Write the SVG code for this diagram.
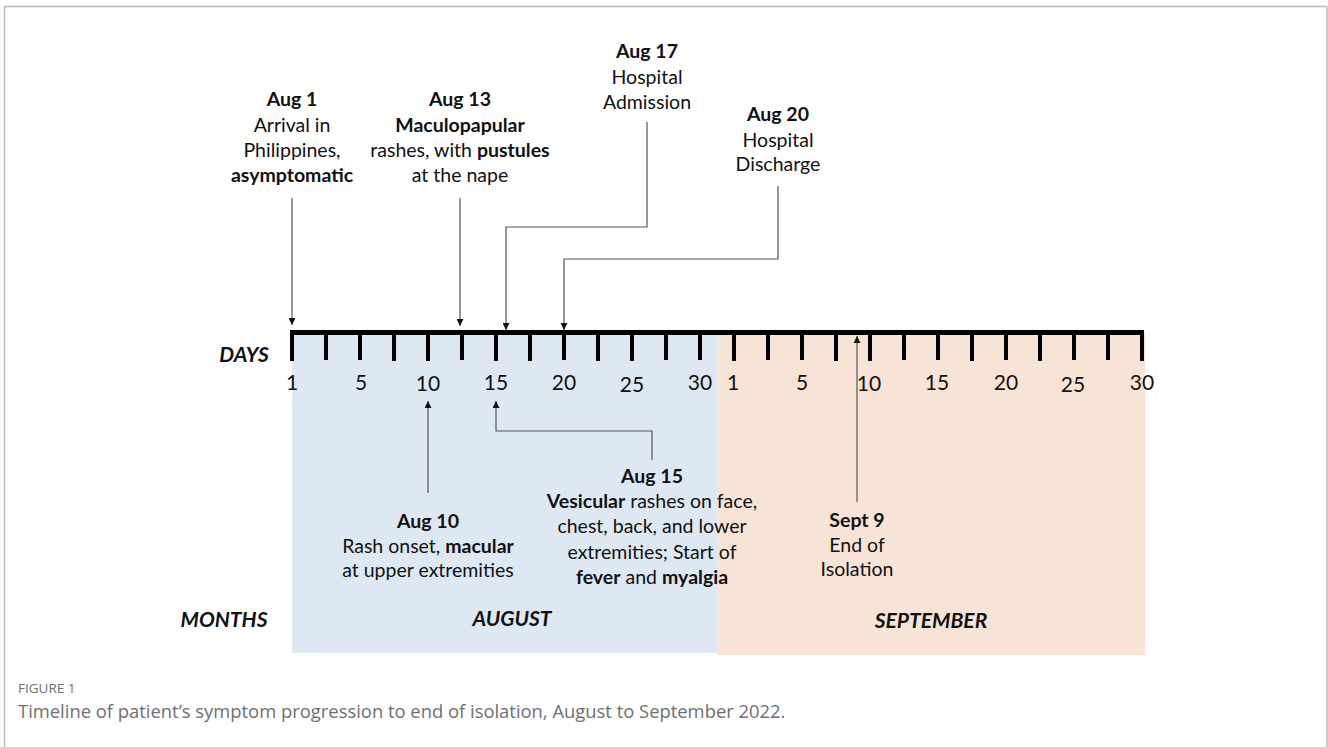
<svg xmlns="http://www.w3.org/2000/svg" width="1328" height="747" viewBox="0 0 1328 747">
<defs>
<style>
.t{font-family:Lato,"Open Sans","Liberation Sans",sans-serif;font-size:19.5px;fill:#111;text-anchor:middle}
.b{font-weight:bold}
.ax{font-family:Lato,"Open Sans","Liberation Sans",sans-serif;font-size:21px;fill:#111;text-anchor:middle}
.hd{font-family:Lato,"Open Sans","Liberation Sans",sans-serif;font-size:21px;font-weight:bold;font-style:italic;fill:#111;text-anchor:middle}
.con{fill:none;stroke:#555;stroke-width:1.2}
.tick{stroke:#000;stroke-width:4}
.cap{font-family:"Open Sans","Lato","Liberation Sans",sans-serif;fill:#6f6f6f}
</style>
<marker id="ah" viewBox="0 0 10 10" refX="10" refY="5" markerWidth="7" markerHeight="7" markerUnits="userSpaceOnUse" orient="auto">
<path d="M0,0 L10,5 L0,10 z" fill="#111"/>
</marker>
</defs>
<rect x="0" y="0" width="1328" height="747" fill="#fff"/>
<path d="M4.5,747 V6.5 H1327" fill="none" stroke="#b8b8b8" stroke-width="1.5"/>
<path d="M1327,6.5 V747" fill="none" stroke="#b8b8b8" stroke-width="1.5"/>

<g id="backgrounds">
<rect x="292" y="333" width="425" height="320" fill="#dee8f3"/>
<rect x="717" y="333" width="428" height="322" fill="#f7e4d6"/>
</g>

<g id="axis">
<line x1="290" y1="332.5" x2="1144" y2="332.5" stroke="#000" stroke-width="5"/>
<g class="tick">
<line x1="292" y1="332" x2="292" y2="361"/>
<line x1="326" y1="332" x2="326" y2="360"/>
<line x1="360" y1="332" x2="360" y2="360"/>
<line x1="394" y1="332" x2="394" y2="361"/>
<line x1="428" y1="332" x2="428" y2="361"/>
<line x1="462" y1="332" x2="462" y2="360"/>
<line x1="496" y1="332" x2="496" y2="361"/>
<line x1="530" y1="332" x2="530" y2="361"/>
<line x1="564" y1="332" x2="564" y2="360"/>
<line x1="598" y1="332" x2="598" y2="361"/>
<line x1="632" y1="332" x2="632" y2="361"/>
<line x1="666" y1="332" x2="666" y2="360"/>
<line x1="700" y1="332" x2="700" y2="360"/>
<line x1="734" y1="332" x2="734" y2="361"/>
<line x1="768" y1="332" x2="768" y2="360"/>
<line x1="802" y1="332" x2="802" y2="360"/>
<line x1="836" y1="332" x2="836" y2="361"/>
<line x1="870" y1="332" x2="870" y2="361"/>
<line x1="904" y1="332" x2="904" y2="360"/>
<line x1="938" y1="332" x2="938" y2="360"/>
<line x1="972" y1="332" x2="972" y2="361"/>
<line x1="1006" y1="332" x2="1006" y2="360"/>
<line x1="1040" y1="332" x2="1040" y2="361"/>
<line x1="1074" y1="332" x2="1074" y2="360"/>
<line x1="1108" y1="332" x2="1108" y2="360"/>
<line x1="1142" y1="332" x2="1142" y2="361"/>
</g>
<text class="ax" x="292" y="390">1</text>
<text class="ax" x="361" y="390">5</text>
<text class="ax" x="428" y="391">10</text>
<text class="ax" x="496" y="390">15</text>
<text class="ax" x="564" y="390">20</text>
<text class="ax" x="632" y="392">25</text>
<text class="ax" x="700" y="390">30</text>
<text class="ax" x="733" y="390">1</text>
<text class="ax" x="802" y="390">5</text>
<text class="ax" x="869" y="391">10</text>
<text class="ax" x="937" y="390">15</text>
<text class="ax" x="1006" y="390">20</text>
<text class="ax" x="1073" y="392">25</text>
<text class="ax" x="1142" y="390">30</text>
<text class="hd" x="244" y="362">DAYS</text>
<text class="hd" x="224" y="627">MONTHS</text>
<text class="hd" x="512" y="626">AUGUST</text>
<text class="hd" x="931" y="628">SEPTEMBER</text>
</g>

<g id="connectors">
<path class="con" d="M292,198 V325" marker-end="url(#ah)"/>
<path class="con" d="M460,198 V326" marker-end="url(#ah)"/>
<path class="con" d="M647,122 V227 H506 V330" marker-end="url(#ah)"/>
<path class="con" d="M778,186 V259 H564 V330" marker-end="url(#ah)"/>
<path class="con" d="M428,493 V401" marker-end="url(#ah)"/>
<path class="con" d="M652,460 V431 H496 V401" marker-end="url(#ah)"/>
<path class="con" d="M857,502 V336" marker-end="url(#ah)"/>
</g>

<g id="aug1">
<text class="t b" x="292" y="106">Aug 1</text>
<text class="t" x="292" y="132">Arrival in</text>
<text class="t" x="292" y="157">Philippines,</text>
<text class="t b" x="292" y="182">asymptomatic</text>
</g>
<g id="aug13">
<text class="t b" x="460" y="106">Aug 13</text>
<text class="t b" x="460" y="132">Maculopapular</text>
<text class="t" x="460" y="157">rashes, with <tspan class="b">pustules</tspan></text>
<text class="t" x="460" y="182">at the nape</text>
</g>
<g id="aug17">
<text class="t b" x="647" y="58">Aug 17</text>
<text class="t" x="647" y="84">Hospital</text>
<text class="t" x="647" y="109">Admission</text>
</g>
<g id="aug20">
<text class="t b" x="778" y="121">Aug 20</text>
<text class="t" x="778" y="147">Hospital</text>
<text class="t" x="778" y="171">Discharge</text>
</g>
<g id="aug10">
<text class="t b" x="428" y="528">Aug 10</text>
<text class="t" x="428" y="553">Rash onset, <tspan class="b">macular</tspan></text>
<text class="t" x="428" y="577">at upper extremities</text>
</g>
<g id="aug15">
<text class="t b" x="652" y="483">Aug 15</text>
<text class="t" x="652" y="508"><tspan class="b">Vesicular</tspan> rashes on face,</text>
<text class="t" x="652" y="533">chest, back, and lower</text>
<text class="t" x="652" y="559">extremities; Start of</text>
<text class="t" x="652" y="584"><tspan class="b">fever</tspan> and <tspan class="b">myalgia</tspan></text>
</g>
<g id="sept9">
<text class="t b" x="857" y="527">Sept 9</text>
<text class="t" x="857" y="552">End of</text>
<text class="t" x="857" y="576">Isolation</text>
</g>

<g id="caption">
<text class="cap" x="18" y="693" font-size="13.5">FIGURE 1</text>
<text class="cap" x="18" y="718" font-size="18.4">Timeline of patient’s symptom progression to end of isolation, August to September 2022.</text>
</g>
</svg>
